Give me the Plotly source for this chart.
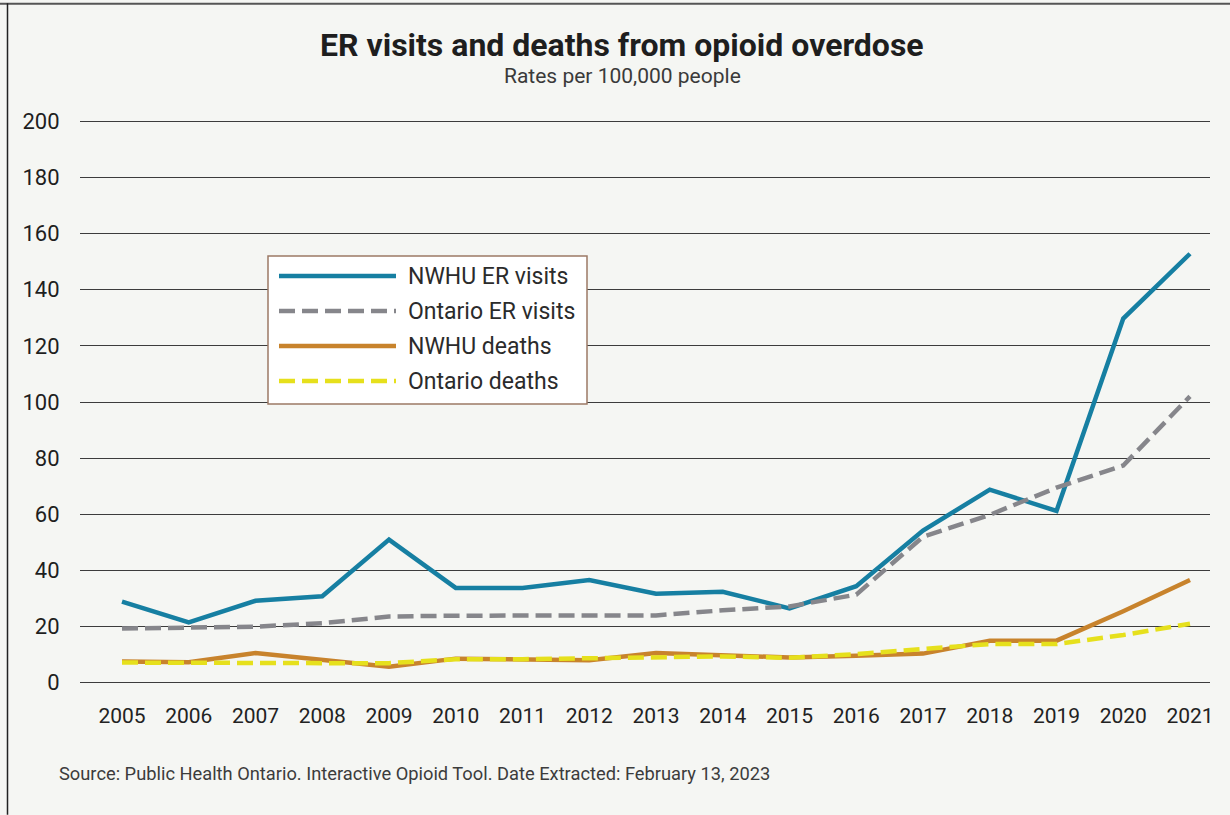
import plotly.graph_objects as go

years = list(range(2005, 2022))
nwhu_er = [28.9, 21.5, 29.2, 30.8, 51.0, 33.8, 33.8, 36.6, 31.7, 32.4, 26.5, 34.4, 54.2, 68.8, 61.2, 129.7, 152.8]
ontario_er = [19.3, 19.6, 20.0, 21.2, 23.6, 23.9, 23.9, 23.9, 24.0, 25.8, 27.2, 31.4, 52.0, 59.8, 69.5, 77.4, 102.0]
nwhu_deaths = [7.6, 7.3, 10.6, 8.2, 5.7, 8.6, 8.4, 8.0, 10.6, 9.8, 9.0, 9.6, 10.4, 15.0, 15.0, 25.5, 36.6]
ontario_deaths = [7.2, 7.0, 7.0, 7.0, 7.0, 8.4, 8.4, 8.8, 9.2, 9.4, 8.9, 10.2, 12.0, 13.8, 13.8, 17.0, 21.0]

series_names = ["NWHU ER visits", "Ontario ER visits", "NWHU deaths", "Ontario deaths"]
series_values = [nwhu_er, ontario_er, nwhu_deaths, ontario_deaths]
series_colors = ["#167fa2", "#86868b", "#c8832c", "#e6e01c"]
series_dash = ["solid", "16px,7px", "solid", "16px,7px"]

y_ticks = [0, 20, 40, 60, 80, 100, 120, 140, 160, 180, 200]
x_tick_labels = [str(y) for y in years]

title_text = "ER visits and deaths from opioid overdose"
subtitle_text = "Rates per 100,000 people"
source_text = "Source: Public Health Ontario. Interactive Opioid Tool. Date Extracted: February 13, 2023"

W, H = 1230, 815
# pixel positions of y=200 and y=0 gridlines
Y200, Y0 = 121, 683
upp = (Y0 - Y200) / 200.0
ylo, yhi = -1.5, 201.5
L, R = 80, 1210
T = Y200 - (yhi - 200) * upp
B = Y0 + (0 - ylo) * upp
pw, ph = R - L, B - T


def px(x):
    return (x - L) / pw


def py(y):
    return (B - y) / ph


fig = go.Figure()
for name, vals, col, dash in zip(series_names, series_values, series_colors, series_dash):
    fig.add_trace(go.Scatter(x=years, y=vals, mode="lines", name=name,
                             line=dict(color=col, width=4.5, dash=dash),
                             showlegend=False, hoverinfo="x+y+name"))

step = (1190 - 122) / 16
x0 = 2005 - (122 - L) / step
x1 = 2021 + (R - 1190) / step

shapes = []
annotations = []

# frame lines (top and left)
shapes.append(dict(type="line", xref="paper", yref="paper", x0=px(0), x1=px(W), y0=py(3.5), y1=py(3.5),
                   line=dict(color="#555555", width=2)))
shapes.append(dict(type="line", xref="paper", yref="paper", x0=px(7.5), x1=px(7.5), y0=py(3), y1=py(H),
                   line=dict(color="#222222", width=1.5)))

# custom legend
shapes.append(dict(type="rect", xref="paper", yref="paper", x0=px(268), x1=px(587), y0=py(256), y1=py(404),
                   line=dict(color="#9c7a66", width=1.5), fillcolor="white", layer="above"))
leg_y = [276, 311, 346, 381]
for name, col, dash, ly in zip(series_names, series_colors, series_dash, leg_y):
    shapes.append(dict(type="line", xref="paper", yref="paper", x0=px(279), x1=px(396), y0=py(ly), y1=py(ly),
                       line=dict(color=col, width=4.5, dash=dash), layer="above"))
    annotations.append(dict(text=name, xref="paper", yref="paper", x=px(406), y=py(ly), xanchor="left",
                            yanchor="middle", showarrow=False, font=dict(size=23, color="#2b2b2b")))

annotations.append(dict(text="<b>" + title_text + "</b>", xref="paper", yref="paper", x=px(622), y=py(45),
                        xanchor="center", yanchor="middle", showarrow=False,
                        font=dict(size=32, color="#1e1e1e")))
annotations.append(dict(text=subtitle_text, xref="paper", yref="paper", x=px(622), y=py(76),
                        xanchor="center", yanchor="middle", showarrow=False,
                        font=dict(size=21, color="#3a3a3a")))
annotations.append(dict(text=source_text, xref="paper", yref="paper", x=px(57), y=py(774),
                        xanchor="left", yanchor="middle", showarrow=False,
                        font=dict(size=18.3, color="#3c3c3c")))

fig.update_layout(
    width=W, height=H,
    margin=dict(l=L, r=W - R, t=T, b=H - B, pad=0),
    paper_bgcolor="#f5f6f3",
    plot_bgcolor="rgba(0,0,0,0)",
    font=dict(family="Roboto", color="#222222"),
    shapes=shapes,
    annotations=annotations,
    xaxis=dict(range=[x0, x1], tickvals=years, ticktext=x_tick_labels, showgrid=False, zeroline=False,
               showline=False, ticks="outside", ticklen=10, tickcolor="rgba(0,0,0,0)",
               tickfont=dict(size=21, color="#222222")),
    yaxis=dict(range=[ylo, yhi], tickvals=y_ticks, showgrid=True, gridcolor="#3c3c3c", gridwidth=1.3,
               zeroline=False, showline=False, ticks="outside", ticklen=15, tickcolor="rgba(0,0,0,0)",
               tickfont=dict(size=22, color="#1e1e1e")),
    showlegend=False,
)

fig.write_html("out.html")
